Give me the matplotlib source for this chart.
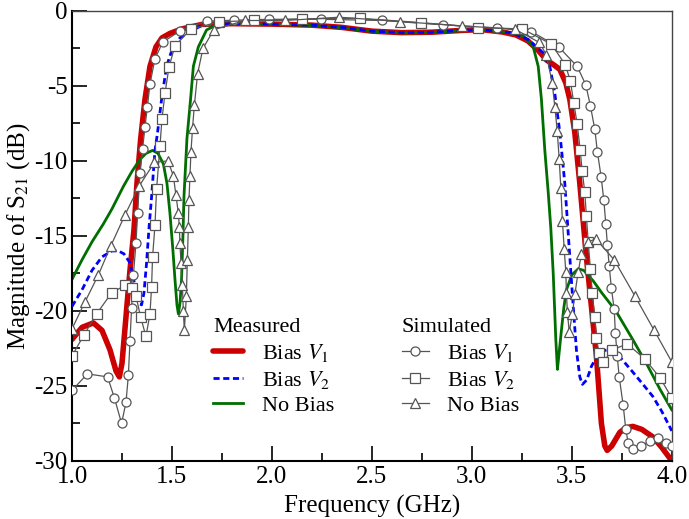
import matplotlib
matplotlib.use("Agg")
import matplotlib.pyplot as plt
from matplotlib.lines import Line2D
from matplotlib.ticker import MultipleLocator

plt.rcParams['font.family'] = ['Liberation Serif', 'DejaVu Serif']
plt.rcParams['mathtext.fontset'] = 'stix'
plt.rcParams['axes.unicode_minus'] = False

# ---------------- Measured data ----------------
meas_v1_x = [1.00, 1.05, 1.107, 1.15, 1.19, 1.22, 1.237, 1.25, 1.27, 1.29, 1.31, 1.325, 1.343,
             1.365, 1.39, 1.42, 1.45, 1.49, 1.55, 1.65, 1.8, 2.0, 2.2, 2.35, 2.5, 2.65, 2.8,
             2.95, 3.05, 3.15, 3.22, 3.28, 3.33, 3.373, 3.41, 3.44, 3.47, 3.49, 3.515, 3.54,
             3.573, 3.598, 3.623, 3.648, 3.665, 3.677, 3.70, 3.74, 3.77, 3.805, 3.85, 3.905,
             3.95, 4.0]
meas_v1_y = [-21.9, -21.1, -20.8, -21.3, -22.6, -24.0, -24.4, -23.5, -20.4, -17.3, -14.6, -11.5, -8.6,
             -5.9, -3.7, -2.4, -1.8, -1.5, -1.2, -0.9, -0.85, -0.88, -0.95, -1.1, -1.35, -1.45, -1.42,
             -1.3, -1.25, -1.4, -1.6, -2.0, -2.6, -3.27, -3.6, -3.9, -4.8, -5.9, -8.1, -11.5,
             -16.4, -19.7, -23.0, -27.5, -29.0, -29.3, -29.0, -28.1, -27.8, -27.7, -27.9, -28.4,
             -29.1, -30.0]

meas_v2_x = [1.00, 1.05, 1.10, 1.15, 1.20, 1.232, 1.26, 1.29, 1.31, 1.32, 1.335, 1.348, 1.36,
             1.373, 1.385, 1.398, 1.415, 1.427, 1.448, 1.473, 1.505, 1.54, 1.573, 1.655, 1.8,
             2.0, 2.2, 2.35, 2.5, 2.65, 2.8, 2.95, 3.05, 3.15, 3.2, 3.28, 3.357, 3.39, 3.415,
             3.44, 3.465, 3.49, 3.507, 3.523, 3.54, 3.553, 3.575, 3.598, 3.64, 3.68, 3.72, 3.755,
             3.8, 3.85, 3.905, 3.95, 4.0]
meas_v2_y = [-19.7, -18.6, -17.3, -16.4, -16.0, -16.0, -16.2, -16.8, -18.0, -18.8, -19.5, -19.6, -18.8,
             -16.8, -14.5, -12.4, -9.3, -8.2, -5.9, -3.7, -2.4, -1.8, -1.5, -0.93, -0.85,
             -0.88, -0.95, -1.1, -1.35, -1.45, -1.42, -1.3, -1.25, -1.4, -1.45, -1.9, -2.8, -3.7, -5.5,
             -8.1, -11.5, -16.4, -19.7, -22.6, -24.4, -24.9, -24.6, -23.7, -22.7, -22.6, -22.8, -23.3,
             -24.0, -24.8, -25.7, -26.7, -28.0]

meas_nb_x = [1.00, 1.05, 1.10, 1.157, 1.20, 1.257, 1.30, 1.34, 1.37, 1.403, 1.43, 1.457, 1.475,
             1.49, 1.505, 1.515, 1.525, 1.532, 1.54, 1.548, 1.555, 1.56, 1.575, 1.593, 1.607,
             1.632, 1.673, 1.723, 1.8, 2.0, 2.2, 2.35, 2.5, 2.65, 2.8, 2.95, 3.05, 3.15, 3.2,
             3.26, 3.307, 3.332, 3.348, 3.365, 3.382, 3.395, 3.407, 3.42, 3.428, 3.435, 3.448,
             3.46, 3.473, 3.5, 3.532, 3.56, 3.607, 3.65, 3.72, 3.8, 3.873, 3.94, 4.0]
meas_nb_y = [-17.9, -16.6, -15.4, -14.2, -13.2, -11.7, -10.7, -9.9, -9.5, -9.3, -9.5, -10.2, -11.5,
             -13.5, -16.0, -17.9, -19.6, -20.2, -19.5, -17.9, -15.0, -12.4, -8.5, -5.9, -3.7,
             -2.4, -1.27, -0.93, -0.87, -0.9, -0.97, -1.12, -1.37, -1.47, -1.44, -1.32, -1.27, -1.4, -1.45,
             -1.7, -2.4, -3.7, -5.9, -9.3, -12.1, -14.5, -17.5, -21.9, -23.9, -23.0, -21.3,
             -19.8, -18.6, -17.6, -17.2, -17.3, -18.0, -18.8, -20.0, -21.8, -23.5, -25.2, -26.6]

# ---------------- Simulated data ----------------
sim_v1_x = [1.0, 1.077, 1.178, 1.212, 1.248, 1.27, 1.282, 1.29, 1.298, 1.307, 1.32, 1.328, 1.34,
            1.353, 1.365, 1.377, 1.39, 1.415, 1.453, 1.54, 1.673, 1.81, 1.987, 2.243, 2.552, 2.857,
            3.127, 3.298, 3.437, 3.527, 3.57, 3.593, 3.615, 3.628, 3.647, 3.66, 3.67, 3.678, 3.687,
            3.698, 3.712, 3.718, 3.727, 3.737, 3.757, 3.77, 3.782, 3.807, 3.848, 3.89, 3.932, 3.973, 4.0]
sim_v1_y = [-25.3, -24.2, -24.4, -25.8, -27.5, -26.1, -24.3, -22.0, -19.8, -17.6, -15.5, -13.5, -10.8,
            -9.2, -7.75, -6.4, -4.87, -3.2, -2.1, -1.33, -0.68, -0.62, -0.56, -0.56, -0.64, -0.93,
            -1.13, -1.38, -2.44, -3.7, -4.93, -6.33, -7.9, -9.4, -11.1, -12.6, -14.2, -15.6, -17.0,
            -18.5, -19.9, -21.5, -23.0, -24.4, -26.3, -27.9, -28.8, -29.2, -29.0, -28.7, -28.5, -28.8, -29.0]

sim_v2_x = [1.0, 1.06, 1.123, 1.198, 1.265, 1.298, 1.32, 1.343, 1.37, 1.39, 1.398, 1.403, 1.415,
            1.423, 1.44, 1.45, 1.465, 1.485, 1.515, 1.595, 1.735, 1.91, 2.148, 2.44, 2.745, 3.032,
            3.253, 3.398, 3.468, 3.493, 3.51, 3.527, 3.542, 3.552, 3.565, 3.573, 3.582, 3.593, 3.602,
            3.615, 3.623, 3.635, 3.657, 3.703, 3.777, 3.865, 3.943, 4.0]
sim_v2_y = [-23.0, -21.6, -20.2, -18.8, -18.3, -18.5, -19.0, -20.4, -21.7, -20.2, -18.4, -16.4, -14.3,
            -11.9, -9.0, -7.2, -5.5, -3.75, -2.33, -1.22, -0.73, -0.64, -0.53, -0.49, -0.78, -1.11,
            -1.2, -2.22, -3.6, -4.7, -6.15, -7.55, -9.3, -10.7, -12.1, -13.7, -15.4, -17.2, -18.8,
            -20.4, -21.8, -22.8, -23.4, -22.6, -22.2, -23.2, -24.5, -25.8]

sim_nb_x = [1.0, 1.065, 1.132, 1.193, 1.265, 1.335, 1.412, 1.48, 1.507, 1.52, 1.532, 1.537, 1.54,
            1.545, 1.552, 1.557, 1.562, 1.572, 1.577, 1.582, 1.585, 1.59, 1.595, 1.603, 1.612, 1.628,
            1.655, 1.71, 1.865, 2.065, 2.337, 2.64, 2.953, 3.215, 3.337, 3.373, 3.402, 3.415, 3.427,
            3.437, 3.445, 3.453, 3.462, 3.47, 3.473, 3.478, 3.487, 3.503, 3.515, 3.532, 3.548, 3.582,
            3.62, 3.712, 3.815, 3.912, 4.0]
sim_nb_y = [-21.2, -19.4, -17.6, -15.7, -13.6, -11.7, -10.1, -10.0, -11.0, -12.3, -13.5, -14.4, -15.5,
            -16.8, -18.3, -20.0, -21.3, -19.0, -16.6, -14.4, -12.6, -11.0, -9.4, -7.8, -6.3, -4.2,
            -2.5, -1.25, -0.64, -0.64, -0.42, -0.71, -1.0, -1.22, -2.1, -2.93, -4.8, -6.4, -8.0,
            -9.9, -11.8, -14.0, -15.9, -17.4, -18.8, -20.1, -21.4, -20.2, -18.9, -17.4, -16.2, -15.4,
            -15.2, -16.6, -19.0, -21.3, -23.4]

labels = ["Bias $V_1$", "Bias $V_2$", "No Bias"]
x_ticks = [1.0, 1.5, 2.0, 2.5, 3.0, 3.5, 4.0]
y_ticks = [0, -5, -10, -15, -20, -25, -30]

RED = '#cc0000'
BLUE = '#0000ff'
GREEN = '#006e00'
GRAY = '#555555'

fig = plt.figure(figsize=(6.89, 5.19), dpi=100)
ax = fig.add_axes([0.1045, 0.112, 0.8705, 0.867])

l1, = ax.plot(meas_v1_x, meas_v1_y, color=RED, lw=4.0, solid_capstyle='round', zorder=2)
l2, = ax.plot(meas_v2_x, meas_v2_y, color=BLUE, lw=2.0, dashes=(2.2, 1.3), zorder=3)
l3, = ax.plot(meas_nb_x, meas_nb_y, color=GREEN, lw=2.0, zorder=2.5)

mk = dict(color=GRAY, lw=0.9, mfc='white', mec=GRAY, mew=0.9, ms=6.5, zorder=4)
s1, = ax.plot(sim_v1_x, sim_v1_y, marker='o', **mk)
s2, = ax.plot(sim_v2_x, sim_v2_y, marker='s', **mk)
s3, = ax.plot(sim_nb_x, sim_nb_y, marker='^', **mk)

ax.set_xlim(1.0, 4.0)
ax.set_ylim(-30, 0)
ax.set_xticks(x_ticks)
ax.set_xticklabels([f"{v:.1f}" for v in x_ticks])
ax.set_yticks(y_ticks)
ax.set_yticklabels([str(v) for v in y_ticks])
ax.xaxis.set_minor_locator(MultipleLocator(0.25))
ax.yaxis.set_minor_locator(MultipleLocator(2.5))
ax.tick_params(which='both', direction='in', top=False, right=False, width=1.2, labelsize=18, colors='black')
ax.tick_params(which='major', length=11)
ax.tick_params(which='minor', length=5.5)
ax.tick_params(axis='x', pad=4)
ax.tick_params(axis='y', pad=3)

for s in ['left', 'bottom']:
    ax.spines[s].set_linewidth(1.5)
    ax.spines[s].set_color('black')
for s in ['top', 'right']:
    ax.spines[s].set_linewidth(1.0)
    ax.spines[s].set_color('#444444')

ax.set_xlabel("Frequency (GHz)", fontsize=18, labelpad=5)
ax.set_ylabel("Magnitude of S$_{21}$ (dB)", fontsize=18, labelpad=2)

leg_kw = dict(frameon=False, fontsize=16, title_fontsize=16, loc='upper left',
              borderpad=0, borderaxespad=0, labelspacing=0.22, handletextpad=0.85,
              alignment='left')
leg1 = ax.legend([l1, l2, l3], labels, title="Measured", handlelength=1.35,
                 bbox_to_anchor=(0.235, 0.318), **leg_kw)
ax.add_artist(leg1)
sim_handles = [Line2D([], [], marker=m, **mk) for m in ['o', 's', '^']]
leg2 = ax.legend(sim_handles, labels, title="Simulated", handlelength=1.2,
                 bbox_to_anchor=(0.55, 0.318), **leg_kw)

fig.savefig("out.png", dpi=100)
